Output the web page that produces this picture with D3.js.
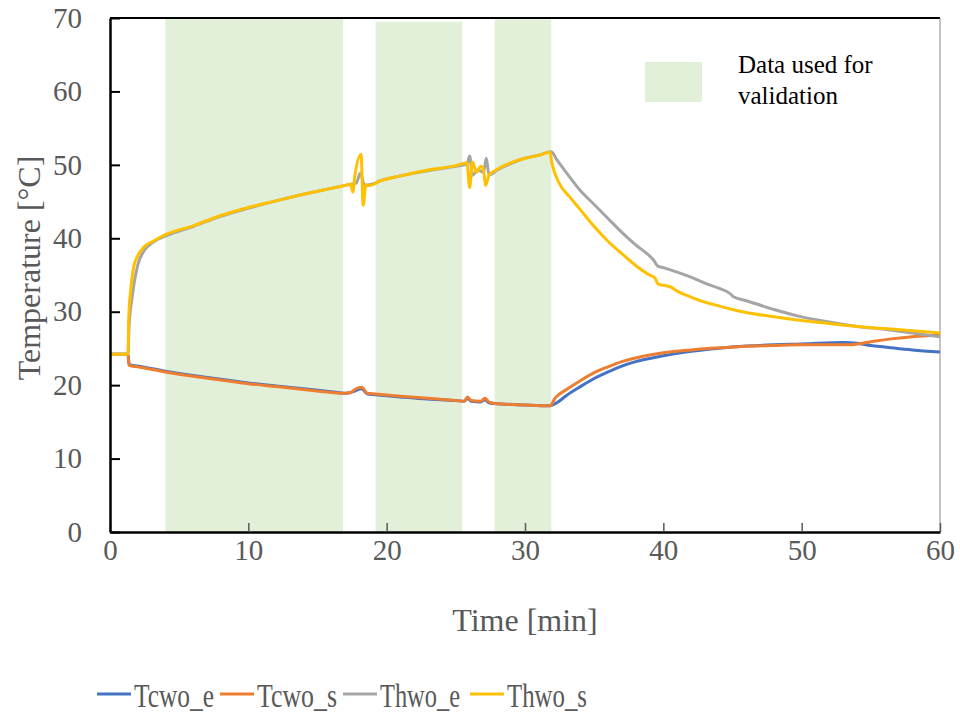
<!DOCTYPE html>
<html><head><meta charset="utf-8">
<script src="https://cdn.jsdelivr.net/npm/d3@7"></script>
<style>body{margin:0;background:#fff}svg{display:block}</style>
</head><body><svg id="c" width="960" height="716"></svg>
<script>
// ---- data ----
const xTicks = [0,10,20,30,40,50,60];
const yTicks = [0,10,20,30,40,50,60,70];
const seriesNames = ["Tcwo_e","Tcwo_s","Thwo_e","Thwo_s"];
const seriesColors = ["#4472C4","#ED7D31","#A5A5A5","#FFC000"];
const bandStart = [4.0, 19.2, 27.8];
const bandEnd   = [16.85, 25.45, 31.9];
const bandTop   = [70, 69.5, 69.8];

const Tcwo_e = [[0,24.2],[1.3,24.2],[1.38,22.8],[2,22.6],[4,21.9],[6,21.3],[8,20.8],[10,20.3],[12,19.9],[14,19.5],[16,19.1],[17,18.9],[17.4,19.0],[17.7,19.2],[18.2,19.5],[18.6,18.8],[19.2,18.7],[21,18.4],[23,18.1],[25,17.9],[25.6,17.8],[25.85,18.2],[26.1,17.8],[26.8,17.7],[27.1,18.0],[27.4,17.6],[27.8,17.5],[30,17.3],[31.8,17.2],[32.3,17.6],[33,18.6],[34,19.8],[35,20.9],[36,21.8],[37,22.6],[38,23.2],[40,24.0],[42,24.6],[45,25.2],[48,25.5],[50,25.6],[53,25.8],[54,25.7],[55,25.4],[56,25.2],[58,24.8],[60,24.5]];
const Tcwo_s = [[0,24.2],[1.3,24.2],[1.38,22.7],[2,22.5],[4,21.8],[6,21.2],[8,20.7],[10,20.2],[12,19.8],[14,19.4],[16,19.0],[17,18.9],[17.4,19.0],[17.7,19.4],[18.2,19.7],[18.6,18.9],[19.2,18.8],[21,18.5],[23,18.2],[25,17.9],[25.6,17.8],[25.85,18.4],[26.1,17.9],[26.8,17.8],[27.1,18.2],[27.4,17.7],[27.8,17.5],[30,17.3],[31.8,17.2],[32.2,18.3],[33,19.4],[34,20.6],[35,21.7],[36,22.5],[37,23.2],[38,23.7],[40,24.4],[42,24.8],[45,25.2],[48,25.4],[50,25.5],[53.5,25.5],[55,25.9],[56.5,26.3],[58,26.6],[60,26.8]];
const Thwo_e = [[0,24.2],[1.3,24.2],[1.38,28],[1.6,32],[2,36.3],[2.5,38.4],[3,39.3],[3.5,39.9],[4,40.3],[6,41.6],[8,43.0],[10,44.1],[12,45.1],[14,46.0],[16,46.8],[17,47.2],[17.8,47.5],[18.1,48.9],[18.4,47.2],[19,47.4],[19.5,47.8],[21,48.5],[23,49.2],[25,49.8],[25.8,50.1],[26.0,51.2],[26.2,48.6],[26.6,49.3],[27.0,49.0],[27.2,50.9],[27.4,48.6],[28,49.3],[29,50.2],[30,50.9],[31,51.3],[31.9,51.8],[32.3,50.7],[33,48.9],[34,46.5],[35,44.6],[36,42.7],[37,40.8],[38,39.1],[39,37.6],[39.3,37.0],[39.6,36.2],[40,36.0],[41,35.4],[42,34.7],[43,33.9],[44,33.2],[44.8,32.5],[45.1,32.0],[46,31.5],[48,30.3],[50,29.3],[52,28.6],[54,28.0],[56,27.6],[58,27.1],[60,26.6]];
const Thwo_s = [[0,24.2],[1.3,24.2],[1.35,29],[1.5,33],[1.7,36],[2.0,37.6],[2.5,38.9],[3.0,39.5],[3.5,40.0],[4,40.5],[6,41.7],[8,43.1],[10,44.2],[12,45.1],[14,46.0],[16,46.8],[17,47.2],[17.4,47.4],[17.55,46.3],[17.7,48.5],[18.15,51.4],[18.3,44.5],[18.5,47.3],[18.8,47.2],[19.5,47.8],[21,48.5],[23,49.3],[25,49.9],[25.8,50.3],[26.0,46.9],[26.2,50.4],[26.5,49.0],[26.8,49.8],[27.0,49.3],[27.15,47.2],[27.4,48.6],[28,49.4],[29,50.3],[30,50.9],[31,51.3],[31.8,51.7],[31.95,50.2],[32.5,47.4],[33.2,45.7],[34,43.9],[35,41.6],[36,39.6],[37,37.9],[38,36.3],[39,35.0],[39.4,34.6],[39.6,33.8],[40,33.6],[40.5,33.4],[41,32.8],[42,32.0],[43,31.3],[44,30.8],[45,30.3],[46,29.9],[48,29.3],[50,28.8],[52,28.4],[54,28.0],[56,27.7],[58,27.4],[60,27.1]];
const seriesData = [Tcwo_e, Tcwo_s, Thwo_e, Thwo_s];

// ---- layout ----
const FONT = "'Liberation Serif','Times New Roman',Times,serif";
const L=110, R=940, T=18, B=532;
const svg = d3.select("#c");
const x = d3.scaleLinear().domain([0,60]).range([L,R]);
const y = d3.scaleLinear().domain([0,70]).range([B,T]);

// bands
svg.append("g").selectAll("rect").data(bandStart).join("rect")
  .attr("x",(d)=>x(d)).attr("width",(d,i)=>x(bandEnd[i])-x(d))
  .attr("y",(d,i)=>y(bandTop[i])).attr("height",(d,i)=>y(0)-y(bandTop[i]))
  .attr("fill","#E2F0D9");

// frame top/right
svg.append("line").attr("x1",L).attr("x2",R).attr("y1",T).attr("y2",T).attr("stroke","#000").attr("stroke-width",2);
svg.append("line").attr("x1",R).attr("x2",R).attr("y1",T).attr("y2",B).attr("stroke","#888").attr("stroke-width",1);

// lines
const line = d3.line().x(d=>x(d[0])).y(d=>y(d[1])).curve(d3.curveMonotoneX);
seriesData.forEach((s,i)=>{
  svg.append("path").attr("d",line(s)).attr("fill","none")
    .attr("stroke",seriesColors[i]).attr("stroke-width",3).attr("stroke-linejoin","round");
});

// axes
const ax = svg.append("g").attr("transform",`translate(0,${B})`)
  .call(d3.axisBottom(x).tickValues(xTicks).tickSizeInner(-9).tickSizeOuter(0).tickPadding(7));
ax.attr("font-family",null);
ax.select(".domain").attr("stroke","#000").attr("stroke-width",2.5);
ax.selectAll(".tick line").attr("stroke","#595959").attr("stroke-width",1.5);
ax.selectAll(".tick text").attr("fill","#595959").attr("font-size",29);

const ay = svg.append("g").attr("transform",`translate(${L},0)`)
  .call(d3.axisLeft(y).tickValues(yTicks).tickSizeInner(-10).tickSizeOuter(0).tickPadding(28));
ay.attr("font-family",null);
ay.select(".domain").attr("stroke","#000").attr("stroke-width",2.5);
ay.selectAll(".tick line").attr("stroke","#000").attr("stroke-width",2);
ay.selectAll(".tick text").attr("fill","#595959").attr("font-size",29);

// titles
svg.append("text").attr("x",525).attr("y",631).attr("text-anchor","middle")
  .attr("font-size",32).attr("fill","#595959").text("Time [min]");
svg.append("text").attr("transform","translate(40,268) rotate(-90)").attr("text-anchor","middle")
  .attr("font-size",32).attr("fill","#595959").text("Temperature [°C]");

// band legend
svg.append("rect").attr("x",645).attr("y",62).attr("width",57).attr("height",40).attr("fill","#E2F0D9");
svg.append("text").attr("x",738).attr("y",73).attr("font-size",25).attr("fill","#000").text("Data used for");
svg.append("text").attr("x",738).attr("y",104).attr("font-size",25).attr("fill","#000").text("validation");

// series legend
const legX = [97,220,343,470];
const lg = svg.append("g");
seriesNames.forEach((n,i)=>{
  lg.append("line").attr("x1",legX[i]).attr("x2",legX[i]+34).attr("y1",694).attr("y2",694)
    .attr("stroke",seriesColors[i]).attr("stroke-width",3);
  lg.append("text").attr("x",legX[i]+37).attr("y",707).attr("font-size",33).attr("fill","#595959")
    .attr("textLength",80).attr("lengthAdjust","spacingAndGlyphs").text(n);
});

svg.selectAll("text").style("font-family",FONT);
</script></body></html>
